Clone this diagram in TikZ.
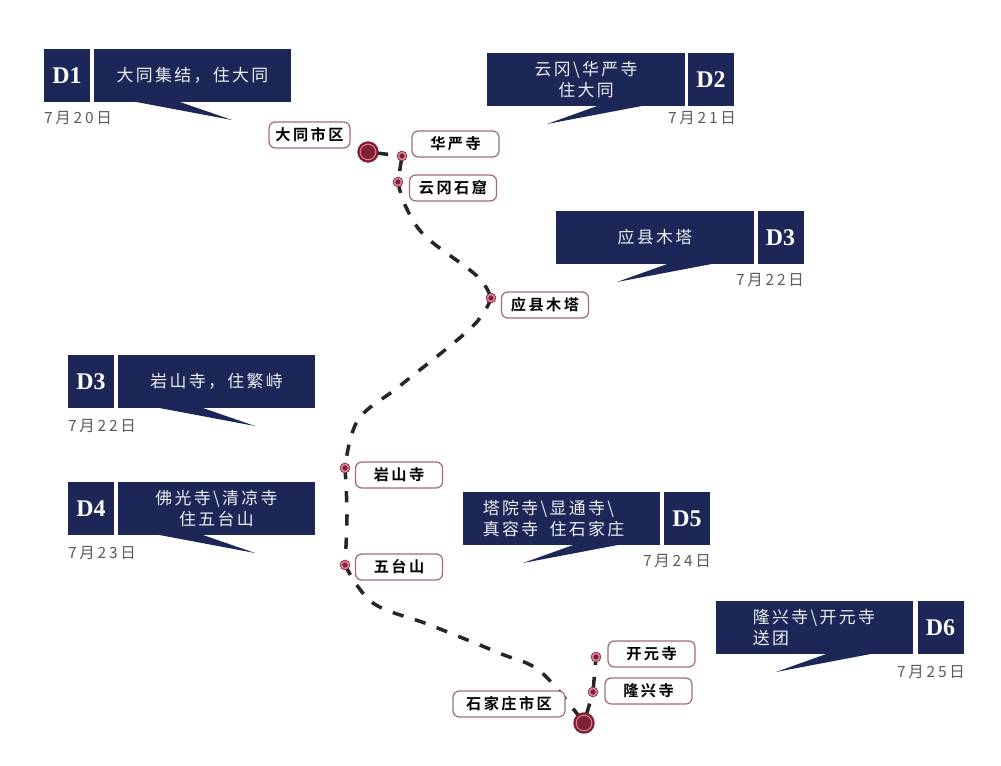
\documentclass[tikz,border=0pt]{standalone}
\usepackage{fontspec}
\usetikzlibrary{backgrounds}
\newfontfamily\cjksans[LetterSpace=14]{Noto Sans CJK SC}
\newfontfamily\cjkbold[LetterSpace=16]{Noto Sans CJK SC Bold}
\newfontfamily\cjkdate[LetterSpace=18]{Noto Sans CJK SC}
\newfontfamily\dayserif{Liberation Serif}
\definecolor{routenavy}{RGB}{28,39,87}
\definecolor{stopred}{RGB}{128,32,52}
\definecolor{stoppink}{RGB}{214,130,155}
\definecolor{labelrim}{RGB}{160,110,122}
\definecolor{dategray}{RGB}{90,90,95}
\tikzset{
  daytag/.style={fill=routenavy,text=white,inner sep=0pt,minimum width=1.15cm,minimum height=1.325cm,
                 font=\dayserif\fontsize{17}{17}\selectfont\bfseries},
  bubble/.style={fill=routenavy,text=white!92!routenavy,inner sep=0pt,minimum width=4.925cm,minimum height=1.325cm,
                 align=center,font=\cjksans\fontsize{12}{15}\selectfont},
  bubbleleft/.style={bubble,align=left},
  datelab/.style={text=dategray,inner sep=0pt,font=\cjkdate\fontsize{11}{12}\selectfont},
  stoplab/.style={draw=labelrim,line width=0.9pt,fill=white,rounded corners=4.5pt,inner sep=0pt,
                  minimum width=2.175cm,minimum height=0.65cm,font=\cjkbold\fontsize{10.8}{12}\selectfont},
  stop/.style={circle,draw=stopred,line width=0.5pt,double=stoppink,double distance=1.2pt,fill=stopred,
               inner sep=0pt,minimum size=0.18cm},
  city/.style={circle,draw=stopred,line width=1.7pt,double=stoppink,double distance=0.7pt,fill=stopred,
               inner sep=0pt,minimum size=0.39cm},
  route/.style={black!85,line width=2.5pt,dash pattern=on 8pt off 8.5pt},
  tail/.style={fill=routenavy},
}
\begin{document}
\begin{tikzpicture}[x=0.025cm,y=-0.025cm]
  \path[use as bounding box] (0,0) rectangle (1001,766);

  % stops
  \node[city] (datong) at (368,152) {};
  \node[stop] (huayan) at (402,156) {};
  \node[stop] (yungang) at (398,182) {};
  \node[stop] (yingxian) at (491,298) {};
  \node[stop] (yanshan) at (345,468) {};
  \node[stop] (wutai) at (345,565) {};
  \node[stop] (kaiyuan) at (596,657) {};
  \node[stop] (longxing) at (593,692) {};
  \node[city] (shijia) at (584,723) {};

  % route
  \begin{scope}[on background layer]
    \draw[route] (datong) -- (huayan);
    \draw[route] (huayan) -- (yungang);
    \draw[route] plot[smooth,tension=0.6] coordinates {(yungang) (405,205) (425,236)
      (477,276) (yingxian)};
    \draw[route] plot[smooth,tension=0.6] coordinates {(yingxian) (472,327)
      (401,385) (358,420) (yanshan)};
    \draw[route] plot[smooth,tension=0.6] coordinates {(yanshan) (347,515) (wutai)};
    \draw[route] plot[smooth,tension=0.6] coordinates {(wutai) (373,603)
      (430,625) (499,653) (541,672) (shijia)};
    \draw[route] (shijia) -- (longxing);
    \draw[route] (longxing) -- (kaiyuan);
  \end{scope}

  \node[stoplab,minimum width=2.025cm] (labdatong) at (309.5,135) {大同市区};
  \node[stoplab] (labhuayan) at (455.5,144) {华严寺};
  \node[stoplab] (labyungang) at (453,188) {云冈石窟};
  \node[stoplab] (labyingxian) at (545,305) {应县木塔};
  \node[stoplab] (labyanshan) at (399,475) {岩山寺};
  \node[stoplab] (labwutai) at (399,567) {五台山};
  \node[stoplab] (labkaiyuan) at (651.5,654) {开元寺};
  \node[stoplab] (lablongxing) at (648.5,691) {隆兴寺};
  \node[stoplab,minimum width=2.8cm] (labshijia) at (509,704) {石家庄市区};

  % D1
  \node[daytag] (dayA) at (67,75.5) {D1};
  \node[bubble] (bubA) at (192.5,75.5) {大同集结，住大同};
  \fill[tail] (131,101) -- (232,120) -- (177,101) -- cycle;
  \node[datelab] (dateA) at (78,118) {7月20日};

  % D2
  \node[bubble] (bubB) at (586,79.5) {云冈\textbackslash 华严寺\\住大同};
  \node[daytag] (dayB) at (711,79.5) {D2};
  \fill[tail] (600,105) -- (547,124) -- (647,105) -- cycle;
  \node[datelab] (dateB) at (702,118) {7月21日};

  % D3
  \node[bubble] (bubC) at (655,237.5) {应县木塔};
  \node[daytag] (dayC) at (780.5,237.5) {D3};
  \fill[tail] (670,263) -- (617,282) -- (717,263) -- cycle;
  \node[datelab] (dateC) at (770,280) {7月22日};

  \node[daytag] (dayD) at (91,381.5) {D3};
  \node[bubble] (bubD) at (216.5,381.5) {岩山寺，住繁峙};
  \fill[tail] (154,407) -- (255,426) -- (200,407) -- cycle;
  \node[datelab] (dateD) at (102,426) {7月22日};

  % D4
  \node[daytag] (dayE) at (91,508.5) {D4};
  \node[bubble] (bubE) at (216.5,508.5) {佛光寺\textbackslash 清凉寺\\住五台山};
  \fill[tail] (154,534) -- (255,553) -- (200,534) -- cycle;
  \node[datelab] (dateE) at (102,553) {7月23日};

  % D5
  \node[bubbleleft,text width=3.925cm] (bubF) at (561.5,518.5) {塔院寺\textbackslash 显通寺\textbackslash\\真容寺~~住石家庄};
  \node[daytag] (dayF) at (687,518.5) {D5};
  \fill[tail] (576,544) -- (523,563) -- (623,544) -- cycle;
  \node[datelab] (dateF) at (677,561) {7月24日};

  % D6
  \node[bubbleleft,text width=3.075cm] (bubG) at (814.5,627.5) {隆兴寺\textbackslash 开元寺\\送团};
  \node[daytag] (dayG) at (940.5,627.5) {D6};
  \fill[tail] (829,653) -- (776,672) -- (876,653) -- cycle;
  \node[datelab] (dateG) at (931,672) {7月25日};
\end{tikzpicture}
\end{document}
